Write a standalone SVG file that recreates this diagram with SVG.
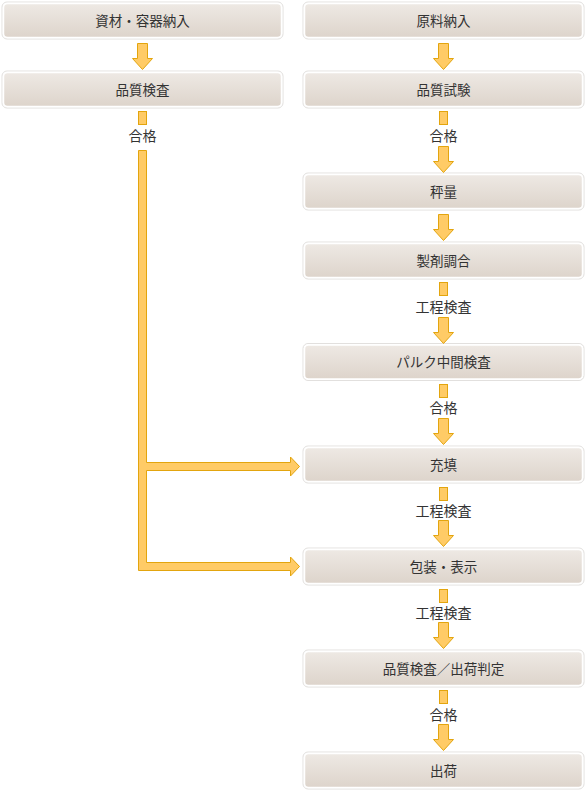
<svg xmlns="http://www.w3.org/2000/svg" width="586" height="792" viewBox="0 0 586 792">
<defs>
<linearGradient id="bg" x1="0" y1="0" x2="0" y2="1">
<stop offset="0" stop-color="#eee9e4"/>
<stop offset="1" stop-color="#ddd4cb"/>
</linearGradient>
<path id="arr" d="M-5,0 H5 V15 H10 L0,26 L-10,15 H-5 Z"/>
<rect id="stub" x="-4" y="0" width="8" height="13"/>
</defs>
<style>
.box{fill:url(#bg);stroke:#ffffff;stroke-width:1.5}
.sh{fill:none;stroke:#e2e0de;stroke-width:1}
.t{font-family:"Noto Sans CJK JP","Noto Sans CJK SC",sans-serif;font-size:13.5px;fill:#333333;text-anchor:middle}
.lab{font-family:"Noto Sans CJK JP","Noto Sans CJK SC",sans-serif;font-size:14px;fill:#333333;text-anchor:middle}
.c{fill:#ffcb66;stroke:#e3a50e;stroke-width:1}
</style>
<rect width="586" height="792" fill="#ffffff"/>

<g id="n-shizai"><rect class="sh" x="2" y="2" width="281" height="37" rx="5"/><rect class="box" x="3.5" y="3.5" width="278" height="34" rx="4"/><text class="t" x="142.5" y="25.5">資材・容器納入</text></g>
<g id="n-hinshitsu-l"><rect class="sh" x="2" y="71" width="281" height="37" rx="5"/><rect class="box" x="3.5" y="72.5" width="278" height="34" rx="4"/><text class="t" x="142.5" y="94.5">品質検査</text></g>

<g id="n-genryo"><rect class="sh" x="303" y="2" width="281" height="37" rx="5"/><rect class="box" x="304.5" y="3.5" width="278" height="34" rx="4"/><text class="t" x="443.5" y="25.5">原料納入</text></g>
<g id="n-shiken"><rect class="sh" x="303" y="71" width="281" height="37" rx="5"/><rect class="box" x="304.5" y="72.5" width="278" height="34" rx="4"/><text class="t" x="443.5" y="94.5">品質試験</text></g>
<g id="n-hyoryo"><rect class="sh" x="303" y="173" width="281" height="37" rx="5"/><rect class="box" x="304.5" y="174.5" width="278" height="34" rx="4"/><text class="t" x="443.5" y="196.5">秤量</text></g>
<g id="n-chogo"><rect class="sh" x="303" y="242" width="281" height="37" rx="5"/><rect class="box" x="304.5" y="243.5" width="278" height="34" rx="4"/><text class="t" x="443.5" y="265.5">製剤調合</text></g>
<g id="n-bulk"><rect class="sh" x="303" y="343.5" width="281" height="37" rx="5"/><rect class="box" x="304.5" y="345" width="278" height="34" rx="4"/><text class="t" x="443.5" y="367">パルク中間検査</text></g>
<g id="n-juten"><rect class="sh" x="303" y="446" width="281" height="37" rx="5"/><rect class="box" x="304.5" y="447.5" width="278" height="34" rx="4"/><text class="t" x="443.5" y="469.5">充填</text></g>
<g id="n-hoso"><rect class="sh" x="303" y="548" width="281" height="37" rx="5"/><rect class="box" x="304.5" y="549.5" width="278" height="34" rx="4"/><text class="t" x="443.5" y="571.5">包装・表示</text></g>
<g id="n-shukka-hantei"><rect class="sh" x="303" y="650" width="281" height="37" rx="5"/><rect class="box" x="304.5" y="651.5" width="278" height="34" rx="4"/><text class="t" x="443.5" y="673.5">品質検査／出荷判定</text></g>
<g id="n-shukka"><rect class="sh" x="303" y="752" width="281" height="37" rx="5"/><rect class="box" x="304.5" y="753.5" width="278" height="34" rx="4"/><text class="t" x="443.5" y="775.5">出荷</text></g>

<g id="connectors">
<use href="#arr" class="c" x="142.5" y="43.5"/>
<use href="#stub" class="c" x="142.5" y="111.5"/>
<text class="lab" x="142.5" y="140.5">合格</text>
<path class="c" d="M138.5,150.5 H146.5 V462.5 H290.5 V457 L299.5,466.5 L290.5,476 V470.5 H146.5 V562.5 H290.5 V557 L299.5,566.5 L290.5,576 V570.5 H138.5 Z"/>

<use href="#arr" class="c" x="443.5" y="43.5"/>
<use href="#stub" class="c" x="443.5" y="111.5"/>
<text class="lab" x="443.5" y="140.5">合格</text>
<use href="#arr" class="c" x="443.5" y="146.5"/>
<use href="#arr" class="c" x="443.5" y="214.5"/>
<use href="#stub" class="c" x="443.5" y="282.5"/>
<text class="lab" x="443.5" y="312">工程検査</text>
<use href="#arr" class="c" x="443.5" y="317.5"/>
<use href="#stub" class="c" x="443.5" y="384.5"/>
<text class="lab" x="443.5" y="413">合格</text>
<use href="#arr" class="c" x="443.5" y="418.5"/>
<use href="#stub" class="c" x="443.5" y="487.5"/>
<text class="lab" x="443.5" y="515.5">工程検査</text>
<use href="#arr" class="c" x="443.5" y="520.5"/>
<use href="#stub" class="c" x="443.5" y="589.5"/>
<text class="lab" x="443.5" y="617.5">工程検査</text>
<use href="#arr" class="c" x="443.5" y="622.5"/>
<use href="#stub" class="c" x="443.5" y="690.5"/>
<text class="lab" x="443.5" y="720">合格</text>
<use href="#arr" class="c" x="443.5" y="724.5"/>
</g>
</svg>
